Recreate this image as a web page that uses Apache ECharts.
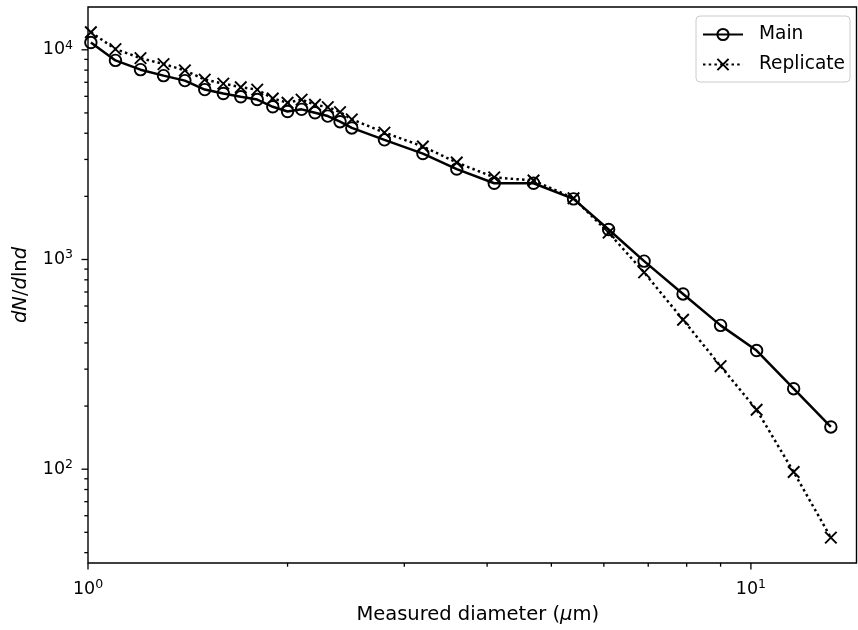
<!DOCTYPE html>
<html><head><meta charset="utf-8">
<script src="https://cdn.jsdelivr.net/npm/echarts@6/dist/echarts.min.js"></script>
<style>html,body{margin:0;padding:0;background:#fff}#c{width:858px;height:630px}</style>
</head><body><div id="c"></div>
<script>
// Data
const diameters = [1.01,1.1,1.2,1.3,1.4,1.5,1.6,1.7,1.8,1.9,2.0,2.1,2.2,2.3,2.4,2.5,2.8,3.2,3.6,4.1,4.7,5.4,6.1,6.9,7.9,9.0,10.2,11.6,13.2];
const mainValues = [10830,8900,8040,7530,7130,6460,6190,5970,5790,5350,5080,5200,5010,4830,4540,4240,3720,3200,2700,2310,2310,1945,1390,982,685,485,368,242,159];
const replicateValues = [12130,10080,9130,8550,7980,7210,6900,6630,6460,5860,5590,5790,5470,5330,5045,4660,4030,3460,2900,2465,2380,1960,1343,868,516,310,192,97,47.2];
const xMajorTicks = [1,10];
const xMinorTicks = [2,3,4,5,6,7,8,9];
const yMajorTicks = [100,1000,10000];
const yMinorTicks = [40,50,60,70,80,90,200,300,400,500,600,700,800,900,2000,3000,4000,5000,6000,7000,8000,9000];
const xMin = 1, xMax = 14.43, yMin = 35.7, yMax = 16000;

const FONT = 'DejaVu Sans';
function isPow10(v){ const l = Math.log10(v); return Math.abs(l - Math.round(l)) < 1e-6; }
function powLabel(v){ if(!isPow10(v)) return ''; return '{b|10}{s|' + Math.round(Math.log10(v)) + '}'; }
const labelRich = {
  b:{fontSize:17.5, fontFamily:FONT, color:'#000', lineHeight:22},
  s:{fontSize:12.5, fontFamily:FONT, color:'#000', lineHeight:11, verticalAlign:'top'}
};

const tickData = [];
xMajorTicks.forEach(v => tickData.push([v, yMin, 'x', 6.5]));
xMinorTicks.forEach(v => tickData.push([v, yMin, 'x', 3.7]));
yMajorTicks.forEach(v => tickData.push([xMin, v, 'y', 6.5]));
yMinorTicks.forEach(v => tickData.push([xMin, v, 'y', 3.7]));

const crossPath = 'path://M0,0L10,10M10,0L0,10';

const chart = echarts.init(document.getElementById('c'), null, {renderer:'canvas'});
chart.setOption({
  animation:false,
  backgroundColor:'#fff',
  grid:{left:88, right:1.5, top:7, bottom:64, show:true, borderColor:'#000', borderWidth:1.4, backgroundColor:'transparent'},
  xAxis:{type:'log', logBase:10, min:xMin, max:xMax,
    axisLine:{show:false}, axisTick:{show:false}, splitLine:{show:false},
    axisLabel:{formatter:powLabel, margin:15, rich:labelRich, showMinLabel:true, showMaxLabel:false},
    name:'Measured diameter ({i|μ}m)', nameLocation:'middle', nameGap:42,
    nameTextStyle:{fontSize:19.5, fontFamily:FONT, color:'#000', padding:[0,0,0,11], rich:{i:{fontSize:19.5, fontFamily:FONT, fontStyle:'italic', color:'#000'}}}
  },
  yAxis:{type:'log', logBase:10, min:yMin, max:yMax,
    axisLine:{show:false}, axisTick:{show:false}, splitLine:{show:false},
    axisLabel:{formatter:powLabel, margin:15, rich:labelRich, showMinLabel:false, showMaxLabel:false},
    name:'{i|dN}/{i|d}ln{i|d}', nameLocation:'middle', nameGap:57, nameRotate:90,
    nameTextStyle:{fontSize:19.5, fontFamily:FONT, color:'#000', rich:{i:{fontSize:19.5, fontFamily:FONT, fontStyle:'italic', color:'#000'}}}
  },
  legend:{
    data:['Main','Replicate'], orient:'vertical', left:696, top:16,
    padding:[9,5,8,6], itemGap:11, itemWidth:40, itemHeight:14,
    backgroundColor:'rgba(255,255,255,0.8)', borderColor:'#cccccc', borderWidth:1, borderRadius:4,
    textStyle:{fontSize:18.6, fontFamily:FONT, color:'#000', padding:[0,0,0,11]}
  },
  series:[
    {name:'Main', type:'line', data:diameters.map((d,i)=>[d, mainValues[i]]),
      symbol:'circle', symbolSize:11.5, showAllSymbol:true,
      lineStyle:{color:'#000', width:2.5},
      itemStyle:{color:'rgba(0,0,0,0)', borderColor:'#000', borderWidth:1.9},
      emphasis:{disabled:true}, z:3},
    {name:'Replicate', type:'line', data:diameters.map((d,i)=>[d, replicateValues[i]]),
      symbol:crossPath, symbolSize:11.5, showAllSymbol:true,
      lineStyle:{color:'#000', width:2.5, type:[2.5,3.2], cap:'butt'},
      itemStyle:{color:'rgba(0,0,0,0)', borderColor:'#000', borderWidth:1.9},
      emphasis:{disabled:true}, z:3},
    {name:'ticks', type:'custom', clip:false, silent:true, z:5,
      data:tickData,
      renderItem:function(params, api){
        const p = api.coord([api.value(0), api.value(1)]);
        const dir = api.value(2); const len = api.value(3);
        const shape = dir === 'x' ? {x1:p[0], y1:p[1], x2:p[0], y2:p[1]+len} : {x1:p[0], y1:p[1], x2:p[0]-len, y2:p[1]};
        return {type:'line', shape:shape, style:{stroke:'#000', lineWidth:1.3}};
      },
      encode:{x:0, y:1}
    }
  ]
});
</script></body></html>
